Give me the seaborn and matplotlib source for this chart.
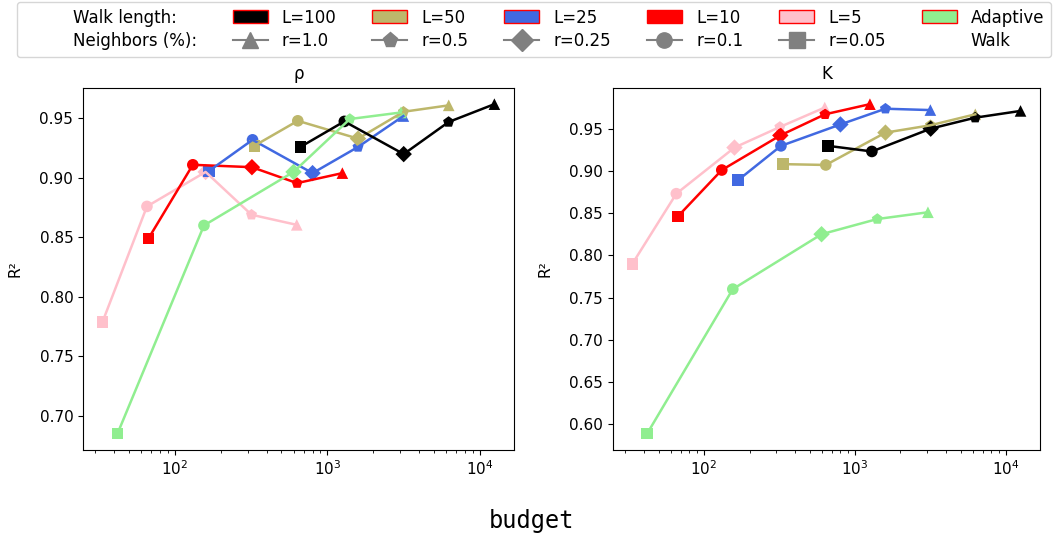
import matplotlib
matplotlib.use("Agg")
import matplotlib.pyplot as plt
from matplotlib.patches import Patch
from matplotlib.lines import Line2D
import seaborn as sns
import pandas as pd

# ---- data ----
series_names = ["L=5", "L=10", "L=25", "L=50", "L=100", "Adaptive"]
radius_values = ["0.05", "0.1", "0.25", "0.5", "1.0"]

budget_L5 = [33.5, 65.5, 159, 318, 630]
budget_L10 = [67, 131, 320, 633, 1255]
budget_L25 = [168, 323, 800, 1590, 3155]
budget_L50 = [332, 640, 1590, 3160, 6260]
budget_L100 = [665, 1293, 3170, 6250, 12480]
budget_adaptive = [42, 155, 600, 1405, 3040]

rho_L5 = [0.779, 0.876, 0.905, 0.869, 0.8605]
rho_L10 = [0.849, 0.911, 0.909, 0.8956, 0.904]
rho_L25 = [0.906, 0.932, 0.904, 0.926, 0.952]
rho_L50 = [0.927, 0.948, 0.933, 0.9556, 0.961]
rho_L100 = [0.926, 0.9475, 0.920, 0.947, 0.962]
rho_adaptive = [0.685, 0.860, 0.905, 0.9495, 0.955]

kappa_L5 = [0.790, 0.873, 0.9276, 0.952, 0.975]
kappa_L10 = [0.846, 0.901, 0.942, 0.967, 0.979]
kappa_L25 = [0.889, 0.9296, 0.955, 0.9736, 0.972]
kappa_L50 = [0.908, 0.907, 0.9453, 0.954, 0.967]
kappa_L100 = [0.9296, 0.923, 0.950, 0.963, 0.971]
kappa_adaptive = [0.589, 0.760, 0.825, 0.843, 0.851]

colors = {"L=100": "black", "L=50": "darkkhaki", "L=25": "royalblue",
          "L=10": "red", "L=5": "pink", "Adaptive": "lightgreen"}
markers = {"1.0": "^", "0.5": "p", "0.25": "D", "0.1": "o", "0.05": "s"}

budgets = dict(zip(series_names, [budget_L5, budget_L10, budget_L25, budget_L50, budget_L100, budget_adaptive]))
rhos = dict(zip(series_names, [rho_L5, rho_L10, rho_L25, rho_L50, rho_L100, rho_adaptive]))
kappas = dict(zip(series_names, [kappa_L5, kappa_L10, kappa_L25, kappa_L50, kappa_L100, kappa_adaptive]))

fig = plt.figure(figsize=(10.53, 5.37), dpi=100)
ax1 = fig.add_axes([0.0788, 0.162, 0.4093, 0.6747])
ax2 = fig.add_axes([0.5821, 0.162, 0.4055, 0.6747])

for ax, vals, title in [(ax1, rhos, "ρ"), (ax2, kappas, "K")]:
    ax.set_xscale("log")
    for name in series_names:
        df = pd.DataFrame({"budget": budgets[name], "r2": vals[name], "r": radius_values})
        sns.lineplot(data=df, x="budget", y="r2", color=colors[name], linewidth=1.8,
                     ax=ax, legend=False, errorbar=None)
        sns.scatterplot(data=df, x="budget", y="r2", style="r", markers=markers,
                        color=colors[name], s=70, linewidth=0, ax=ax, legend=False)
    ax.set_title(title, fontsize=12)
    ax.set_ylabel("R²", fontsize=11, labelpad=12)
    ax.set_xlabel("")
    ax.tick_params(labelsize=11)

fig.text(0.505, 0.03, "budget", family="DejaVu Sans Mono", fontsize=17, ha="center", va="center")

# ---- legend ----
blank = Patch(facecolor="none", edgecolor="none")
handles, labels = [], []
handles += [blank, blank]
labels += ["Walk length:", "Neighbors (%):"]
leg_L = ["L=100", "L=50", "L=25", "L=10", "L=5"]
leg_r = ["1.0", "0.5", "0.25", "0.1", "0.05"]
for L, r in zip(leg_L, leg_r):
    handles.append(Patch(facecolor=colors[L], edgecolor="red"))
    labels.append(L)
    handles.append(Line2D([0], [0], color="gray", marker=markers[r], markersize=11, linewidth=1.5))
    labels.append("r=" + r)
handles += [Patch(facecolor=colors["Adaptive"], edgecolor="red"), blank]
labels += ["Adaptive", "Walk"]

fig.legend(handles, labels, ncol=7, loc="upper center", bbox_to_anchor=(0.507, 1.012),
           fontsize=12, handlelength=2.1, handleheight=0.8, handletextpad=0.85,
           columnspacing=2.15, labelspacing=0.35, frameon=True)

fig.savefig("out.png", dpi=100)
